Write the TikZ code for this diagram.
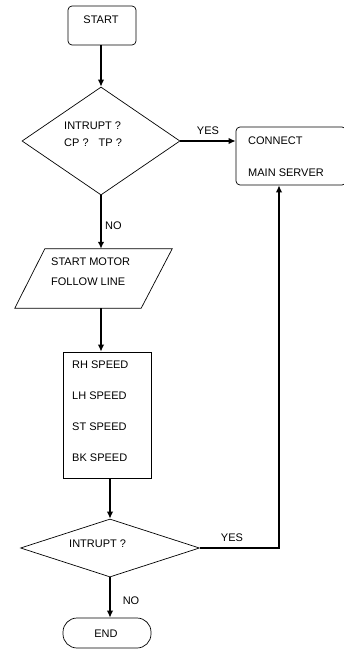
\documentclass[tikz,border=0pt]{standalone}
\usepackage{fontspec}
\setmainfont{Liberation Sans}
\usetikzlibrary{shapes.geometric,arrows.meta}
\begin{document}
\begin{tikzpicture}[x=1pt,y=-1pt,
  shapebox/.style={draw, line width=0.7pt, inner sep=0pt},
  txt/.style={anchor=west, inner sep=0pt, font=\fontsize{11}{12}\selectfont},
  ctxt/.style={inner sep=0pt, font=\fontsize{11}{12}\selectfont},
  conn/.style={line width=1.5pt, -{Latex[length=7pt,width=6.5pt]}},
  plain/.style={line width=1.5pt}]
\useasboundingbox (0,0) rectangle (343,650);
% shapes
\node[shapebox, rounded corners=4pt, minimum width=68pt, minimum height=39pt] (start) at (102,25.5) {};
\node[ctxt] (startT) at (101,20) {START};
\node[shapebox, diamond, minimum width=158pt, minimum height=108pt] (d1) at (101,141) {};
\node[txt] (d1a) at (64,125.5) {INTRUPT ?};
\node[txt] (d1b) at (64,143) {CP ?\hspace{10pt}TP ?};
\node[shapebox, rounded corners=4pt, minimum width=110pt, minimum height=58pt] (connect) at (291,156) {};
\node[txt] (cA) at (248,141) {CONNECT};
\node[txt] (cB) at (248,173) {MAIN SERVER};
\node[minimum width=157pt, minimum height=59pt, inner sep=0pt] (par) at (93.5,278.5) {};
\draw[line width=0.7pt] ([xshift=30pt]par.north west) -- (par.north east) -- ([xshift=-31pt]par.south east) -- (par.south west) -- cycle;
\node[txt] (pA) at (51,262) {START MOTOR};
\node[txt] (pB) at (51,281.5) {FOLLOW LINE};
\node[shapebox, minimum width=88pt, minimum height=126pt] (rect) at (107,415) {};
\node[txt] (r1) at (72,365) {RH SPEED};
\node[txt] (r2) at (72,396) {LH SPEED};
\node[txt] (r3) at (72,427) {ST SPEED};
\node[txt] (r4) at (72,458) {BK SPEED};
\node[shapebox, diamond, minimum width=179pt, minimum height=58pt] (d2) at (110,548) {};
\node[txt] (d2a) at (69,544) {INTRUPT ?};
\node[shapebox, rounded corners=14pt, minimum width=88pt, minimum height=30pt] (end) at (107,633) {};
\node[ctxt] (endT) at (106,634) {END};
% connectors
\draw[conn] (start.south -| d1.north) -- (d1.north);
\draw[conn] (d1.east) -- (d1.east -| connect.west);
\node[ctxt] (yes1) at (208,131) {YES};
\draw[conn] (d1.south) -- (d1.south |- par.north);
\node[txt] (no1) at (105,226) {NO};
\coordinate (a2) at ([xshift=7.5pt]par.south);
\draw[conn] (a2) -- (a2 |- rect.north);
\draw[conn] (d2.north |- rect.south) -- (d2.north);
\coordinate (yesCorner) at (279,548);
\draw[conn] (d2.east) -- (yesCorner) -- (yesCorner |- connect.south);
\node[ctxt] (yes2) at (232,538) {YES};
\draw[conn] (d2.south) -- (d2.south |- end.north);
\node[ctxt] (no2) at (131,601) {NO};
\end{tikzpicture}
\end{document}
